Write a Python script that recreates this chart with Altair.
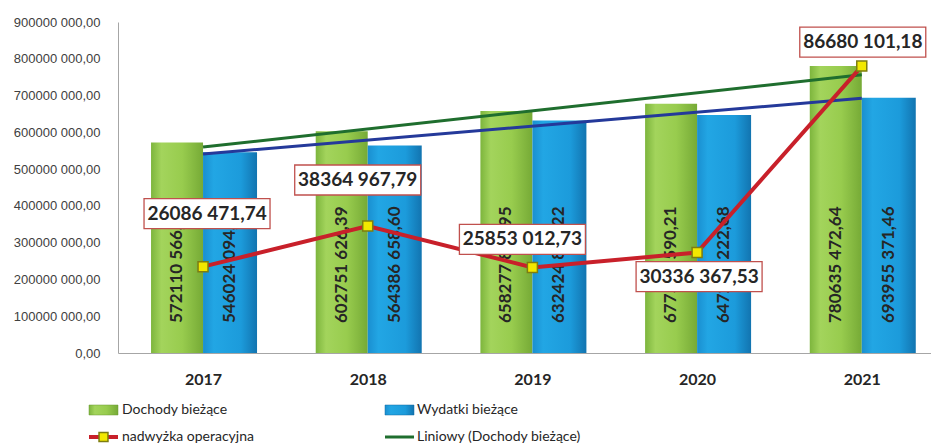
import altair as alt
import pandas as pd

# ---------------- data ----------------
years = [2017, 2018, 2019, 2020, 2021]
dochody = [572110566.14, 602751626.39, 658277862.95, 677562590.21, 780635472.64]
wydatki = [546024094.40, 564386658.60, 632424850.22, 647226222.68, 693955371.46]
nadwyzka = [26086471.74, 38364967.79, 25853012.73, 30336367.53, 86680101.18]
y_ticks = [0, 100000000, 200000000, 300000000, 400000000,
           500000000, 600000000, 700000000, 800000000, 900000000]
legend_labels = ["Dochody bieżące", "Wydatki bieżące",
                 "nadwyżka operacyjna", "Liniowy (Dochody bieżące)"]


def pl(v):
    cents = int(round(v * 100))
    whole, c = divmod(cents, 100)
    th, rest = divmod(whole, 1000)
    if th:
        return f"{th} {rest:03d},{c:02d}"
    return f"{rest},{c:02d}"


df = pd.DataFrame({"year": years, "dochody": dochody, "wydatki": wydatki,
                   "nadwyzka": nadwyzka})
df["dochody_lbl"] = [pl(v) for v in dochody]
df["wydatki_lbl"] = [pl(v) for v in wydatki]
df["nadwyzka_lbl"] = [pl(v) for v in nadwyzka]
one = pd.DataFrame({"k": [0]})

# ---------------- style ----------------
W, H = 813, 331
LABEL_DX = [4, -10, -10, 2, 1]
LABEL_DY = [-53, -46, -28, 24, -24]
TXT = "#262626"
RED = "#c8202a"
BOX_RED = "#c0504d"
YELLOW = "#f2e800"
GREEN_TREND = "#1f6e2e"
BLUE_TREND = "#24399a"

green_grad = alt.LinearGradient(
    gradient="linear", x1=0, x2=1, y1=0, y2=0,
    stops=[alt.GradientStop(offset=0, color="#7db53d"),
           alt.GradientStop(offset=0.2, color="#a3d45c"),
           alt.GradientStop(offset=0.6, color="#98cc4e"),
           alt.GradientStop(offset=1, color="#76aa36")])
blue_grad = alt.LinearGradient(
    gradient="linear", x1=0, x2=1, y1=0, y2=0,
    stops=[alt.GradientStop(offset=0, color="#1a8fd0"),
           alt.GradientStop(offset=0.2, color="#22a6e4"),
           alt.GradientStop(offset=0.7, color="#1c9bdb"),
           alt.GradientStop(offset=1, color="#1274b0")])

x_scale = alt.Scale(domain=[2016.514, 2021.39], nice=False, zero=False)
x_axis = alt.Axis(values=years, format="d", title=None, grid=False, ticks=False,
                  labelFont="Lato", labelFontWeight="bold", labelFontSize=16,
                  labelColor=TXT, labelPadding=18, labelFlush=False,
                  domainColor="#a6a6a6", domainWidth=1)
y_scale = alt.Scale(domain=[0, 900000000], nice=False, zero=True)
y_axis = alt.Axis(values=y_ticks, title=None, grid=False, ticks=False,
                  labelFont="Liberation Sans", labelFontSize=13,
                  labelColor="#404040", labelPadding=18,
                  domainColor="#a6a6a6", domainWidth=1,
                  labelExpr="datum.value == 0 ? '0,00' : format(datum.value / 1000, 'd') + ' 000,00'")
y2_scale = alt.Scale(domain=[0, 100000000], nice=False, zero=True)

X = alt.X("year:Q", scale=x_scale, axis=x_axis)
base = alt.Chart(df)

bars_d = base.mark_bar(color=green_grad, size=52, xOffset=-26).encode(
    x=X, y=alt.Y("dochody:Q", scale=y_scale, axis=y_axis))
bars_w = base.mark_bar(color=blue_grad, size=54, xOffset=27).encode(
    x=X, y=alt.Y("wydatki:Q", scale=y_scale, axis=y_axis))
trend_d = base.transform_regression("year", "dochody").mark_line(
    color=GREEN_TREND, strokeWidth=3).encode(
    x=X, y=alt.Y("dochody:Q", scale=y_scale, axis=y_axis))
trend_w = base.transform_regression("year", "wydatki").mark_line(
    color=BLUE_TREND, strokeWidth=3).encode(
    x=X, y=alt.Y("wydatki:Q", scale=y_scale, axis=y_axis))
lbl_d = base.mark_text(angle=270, align="left", baseline="middle", dx=30,
                       xOffset=-26, font="Lato", fontWeight="bold",
                       fontSize=17, color=TXT).encode(
    x=X, y=alt.Y("zero:Q", scale=y_scale, axis=y_axis),
    text="dochody_lbl:N").transform_calculate(zero="0")
lbl_w = base.mark_text(angle=270, align="left", baseline="middle", dx=30,
                       xOffset=27, font="Lato", fontWeight="bold",
                       fontSize=17, color=TXT).encode(
    x=X, y=alt.Y("zero:Q", scale=y_scale, axis=y_axis),
    text="wydatki_lbl:N").transform_calculate(zero="0")

main = alt.layer(bars_d, bars_w, trend_d, trend_w, lbl_d, lbl_w)

Y2 = alt.Y("nadwyzka:Q", scale=y2_scale, axis=None)
line_n = base.mark_line(color=RED, strokeWidth=4).encode(x=X, y=Y2)
pts_n = base.mark_point(shape="square", filled=True, size=100, fill=YELLOW,
                        stroke="#7d7d10", strokeWidth=1.5, opacity=1).encode(x=X, y=Y2)
box_path = "M-1,-0.238H1V0.238H-1Z"
surplus_layers = [line_n, pts_n]
for yr, dx, dy in zip(years, LABEL_DX, LABEL_DY):
    sub = base.transform_filter(alt.datum.year == yr)
    surplus_layers.append(sub.mark_point(
        shape=box_path, size=126 * 126, filled=True, fill="white", opacity=1,
        stroke=BOX_RED, strokeWidth=1.3, xOffset=dx, yOffset=dy).encode(x=X, y=Y2))
    surplus_layers.append(sub.mark_text(
        font="Lato", fontWeight="bold", fontSize=19, color=TXT,
        baseline="middle", align="center", xOffset=dx, yOffset=dy).encode(
        x=X, y=Y2, text="nadwyzka_lbl:N"))
surplus = alt.layer(*surplus_layers)

# ---------------- legend (decoration) ----------------
leg = alt.Chart(one)
R1, R2 = 388, 415
C1, C2 = -29, 267
leg_layers = [
    leg.mark_rect(color=green_grad, stroke="#6a9a30", strokeWidth=0.5).encode(
        x=alt.value(C1), x2=alt.value(C1 + 29), y=alt.value(R1 - 5), y2=alt.value(R1 + 5)),
    leg.mark_rect(color=blue_grad, stroke="#106aa0", strokeWidth=0.5).encode(
        x=alt.value(C2), x2=alt.value(C2 + 29), y=alt.value(R1 - 5), y2=alt.value(R1 + 5)),
    leg.mark_rule(color=RED, strokeWidth=4).encode(
        x=alt.value(C1), x2=alt.value(C1 + 29), y=alt.value(R2)),
    leg.mark_point(shape="square", filled=True, size=80, fill=YELLOW,
                   stroke="#7d7d10", strokeWidth=1.5, opacity=1).encode(
        x=alt.value(C1 + 14.5), y=alt.value(R2)),
    leg.mark_rule(color=GREEN_TREND, strokeWidth=3).encode(
        x=alt.value(C2), x2=alt.value(C2 + 29), y=alt.value(R2)),
]
for lab, cx, ry in zip(legend_labels, [C1 + 33, C2 + 32, C1 + 33, C2 + 32], [R1, R1, R2, R2]):
    leg_layers.append(leg.mark_text(align="left", baseline="middle", font="Lato",
                                    fontSize=14, color=TXT).encode(
        x=alt.value(cx), y=alt.value(ry), text=alt.value(lab)))
legend = alt.layer(*leg_layers)

chart = alt.layer(main, surplus, legend).resolve_scale(y="independent").properties(
    width=W, height=H,
    autosize=alt.AutoSizeParams(type="none"),
    padding={"left": 110, "top": 14, "right": 0, "bottom": 92},
).configure_view(stroke=None)

chart.save("out.html", embed_options={"renderer": "svg", "actions": False})
